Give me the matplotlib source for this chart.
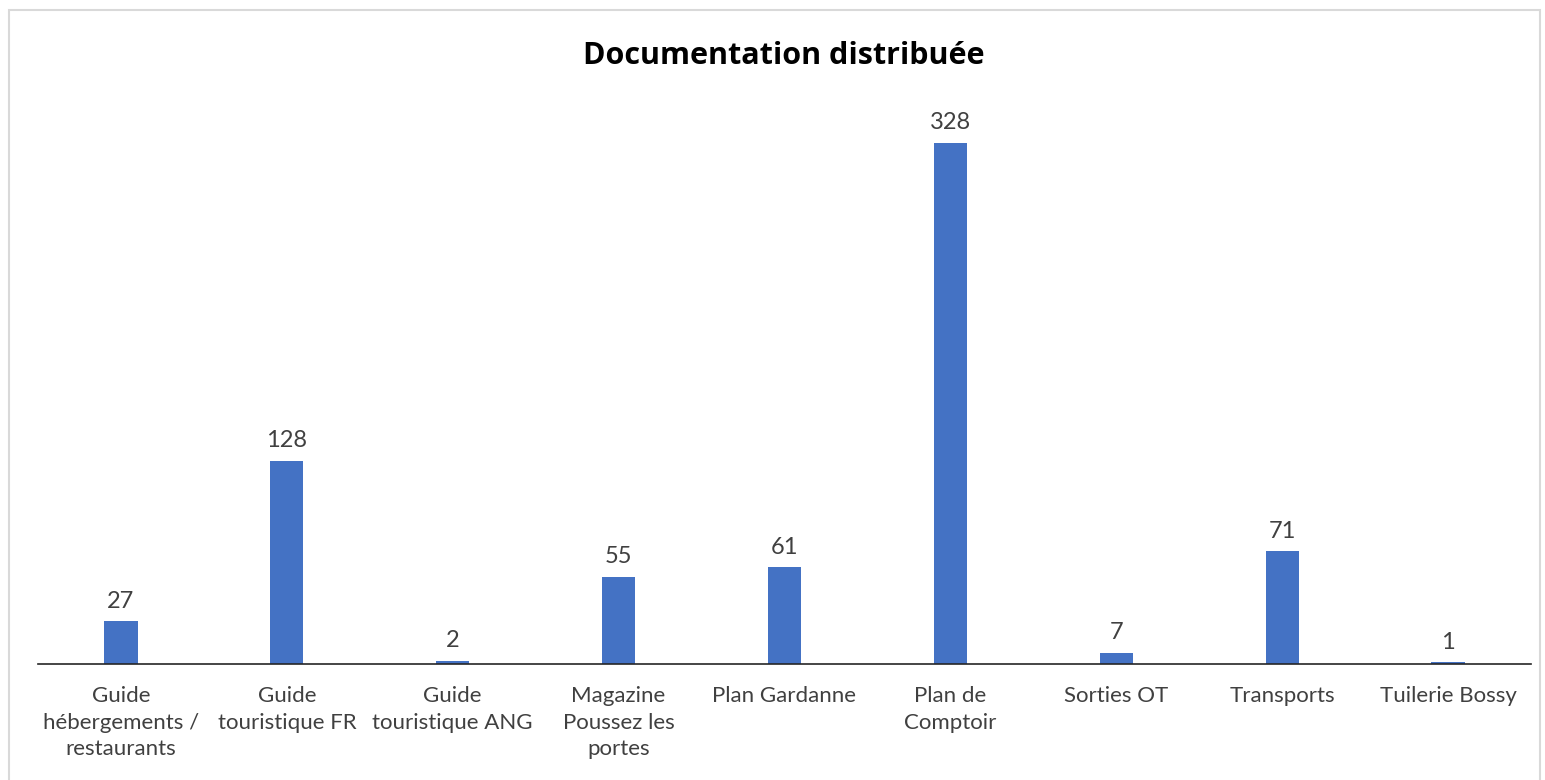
import matplotlib.pyplot as plt
from matplotlib.patches import Rectangle

# Chart data
categories = [
    "Guide\nhébergements /\nrestaurants",
    "Guide\ntouristique FR",
    "Guide\ntouristique ANG",
    "Magazine\nPoussez les\nportes",
    "Plan Gardanne",
    "Plan de\nComptoir",
    "Sorties OT",
    "Transports",
    "Tuilerie Bossy",
]
values = [27, 128, 2, 55, 61, 328, 7, 71, 1]

plt.rcParams["font.family"] = ["Lato", "DejaVu Sans"]

W, H = 1545, 780
fig = plt.figure(figsize=(W / 100, H / 100), dpi=100)

# Light grey chart border like Excel
fig.patches.append(Rectangle((9 / W, -0.01), 1531 / W, (H - 10) / H + 0.01,
                             transform=fig.transFigure, fill=False,
                             edgecolor="#d9d9d9", linewidth=1.5))

ax = fig.add_axes([38 / W, (H - 664) / H, (1531 - 38) / W, (664 - 100) / H])

x = list(range(len(categories)))
bars = ax.bar(x, values, width=0.2, color="#4472c4")

ax.set_xlim(-0.5, len(categories) - 0.5)
ax.set_ylim(0, 355)

for b, v in zip(bars, values):
    ax.text(b.get_x() + b.get_width() / 2, v + 6, str(v), ha="center", va="bottom",
            fontsize=17, color="#404040")

ax.set_xticks(x)
ax.set_xticklabels(categories, fontsize=16, color="#404040", linespacing=1.4, va="top")
ax.tick_params(axis="x", length=0, pad=16)
ax.set_yticks([])

for side in ["top", "right", "left"]:
    ax.spines[side].set_visible(False)
ax.spines["bottom"].set_color("#262626")
ax.spines["bottom"].set_linewidth(1.2)

fig.text(784 / W, 1 - 56 / H, "Documentation distribuée", ha="center", va="center",
         fontsize=22, fontweight="bold", color="#000000", family="Open Sans")

fig.savefig("out.png", dpi=100)
